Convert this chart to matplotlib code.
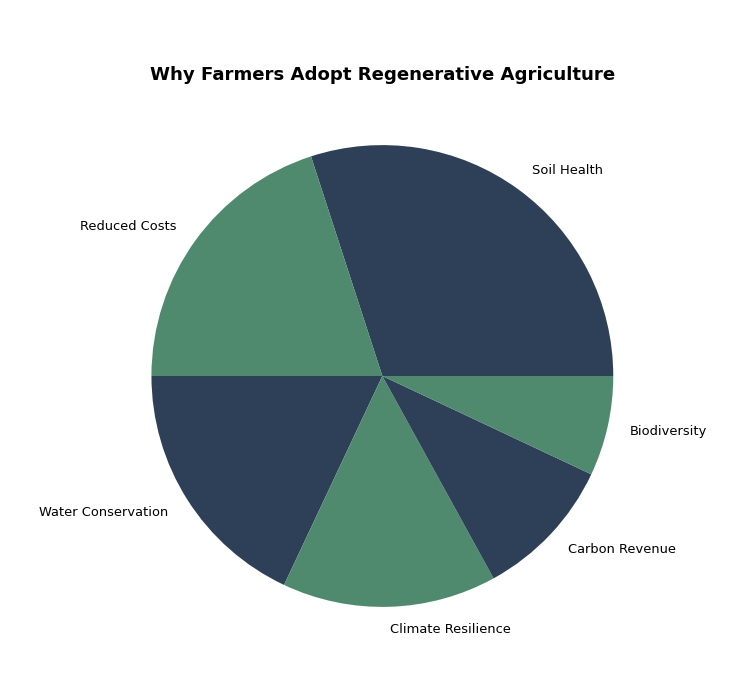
import matplotlib
matplotlib.use("Agg")
import matplotlib.pyplot as plt

categories = ["Soil Health", "Reduced Costs", "Water Conservation",
              "Climate Resilience", "Carbon Revenue", "Biodiversity"]
values = [30, 20, 18, 15, 10, 7]
colors = ["#2E4057", "#4F8A6F", "#2E4057", "#4F8A6F", "#2E4057", "#4F8A6F"]

fig, ax = plt.subplots(figsize=(7.37, 6.92), dpi=100)
fig.subplots_adjust(left=0.1316, right=0.906, bottom=0.0896, top=0.8237)
ax.pie(values, labels=categories, colors=colors, startangle=0,
       textprops={"fontsize": 9.4})
ax.set_title("Why Farmers Adopt Regenerative Agriculture",
             fontsize=13.1, fontweight="bold", pad=30)
ax.axis("equal")
fig.savefig("out.png", dpi=100)
